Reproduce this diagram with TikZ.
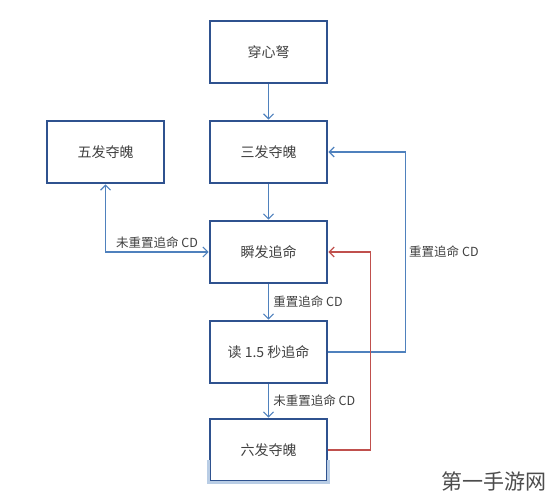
\documentclass[tikz,border=0pt]{standalone}
\usepackage{fontspec}
\newfontfamily\cjk{Noto Sans CJK SC}
\usetikzlibrary{arrows.meta, calc}
\definecolor{bd}{HTML}{2F528F}
\definecolor{bl}{HTML}{4F81BD}
\definecolor{rd}{HTML}{C0504D}
\definecolor{lb}{HTML}{B9CDE5}
\definecolor{tx}{HTML}{404040}

\begin{document}
\begin{tikzpicture}[x=1pt, y=-1pt,
    box/.style={draw=bd, line width=2.6pt, minimum width=117pt, minimum height=62pt,
      font=\cjk\fontsize{14}{16}\selectfont, text=tx},
    link/.style={draw=bl, line width=1.2pt, -{Straight Barb[length=5pt, width=10pt]}},
    lbl/.style={font=\cjk\fontsize{12.5}{14}\selectfont, text=tx}]
	\useasboundingbox (0,0) rectangle (556,500);

	% Skill boxes
	\node[box] (cxn) at (268.5,52) {穿心弩};
	\node[box] (sfdp) at (268.5,152) {三发夺魄};
	\node[box] (wfdp) at (105.5,152) {五发夺魄};
	\node[box] (sfzm) at (268.5,252) {瞬发追命};
	\node[box] (dzm) at (268.5,352) {读 1.5 秒追命};
	\node[box] (lfdp) at (268.5,450) {六发夺魄};
	% cut-off bottom of the last box
	\draw[lb, line width=2.6pt] (lfdp.west |- 0,460) -- (lfdp.south west) -- (lfdp.south east) -- (lfdp.east |- 0,460);

	% Main chain
	\draw[link] (cxn) -- (sfdp);
	\draw[link] (sfdp) -- (sfzm);
	\draw[link] (sfzm) -- node[lbl, right, xshift=1pt] {重置追命 CD} (dzm);
	\draw[link] (dzm) -- node[lbl, right, xshift=1pt] {未重置追命 CD} (lfdp);

	% Loops back
	\draw[link, {Straight Barb[length=5pt, width=10pt]}-{Straight Barb[length=5pt, width=10pt]}]
		(wfdp.south) |- node[lbl, pos=0.75, above] {未重置追命 CD} (sfzm.west);
	\draw[link] (dzm.east) -- ++(77,0) |- node[lbl, pos=0.25, right] {重置追命 CD} (sfdp.east);
	\draw[link, draw=rd] (lfdp.east) -- ++(42,0) |- (sfzm.east);

	% Watermark
	\node[font=\cjk\fontsize{21}{24}\selectfont, text=black!70] (wm) at (494,481) {第一手游网};
\end{tikzpicture}
\end{document}
